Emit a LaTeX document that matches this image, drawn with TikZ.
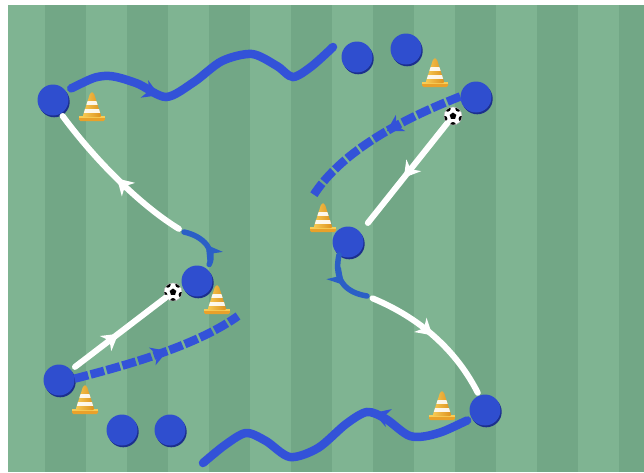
\documentclass[tikz,border=0pt]{standalone}
\usetikzlibrary{arrows.meta, decorations.markings, shapes.geometric, shadows, calc}
\definecolor{fieldlight}{HTML}{7FB492}
\definecolor{fielddark}{HTML}{72A786}
\definecolor{playerfill}{HTML}{2F4ECF}
\definecolor{playeredge}{HTML}{1C2F8C}
\definecolor{runblue}{HTML}{3352D8}
\definecolor{curlblue}{HTML}{2B5FC6}
\definecolor{conelight}{HTML}{F8CC55}
\definecolor{conedark}{HTML}{DC8E1C}
\definecolor{conebase}{HTML}{E9A12A}
\tikzset{
    player/.style={circle, minimum size=31pt, inner sep=0pt, fill=playerfill,
        general shadow={fill=playeredge, shadow xshift=1.2pt, shadow yshift=-1.8pt}},
    ball/.style={circle, minimum size=18pt, inner sep=0pt, fill=white, draw=gray!60, line width=0.4pt,
        path picture={
            \node[regular polygon, regular polygon sides=5, fill=black, inner sep=0pt, minimum size=7pt]
                at (path picture bounding box.center) {};
            \foreach \a in {54,126,198,270,342}
                \fill[black] ($(path picture bounding box.center)+(\a:9pt)$) circle (3pt);
        }},
    midarrow/.style={postaction={decorate, decoration={markings,
        mark=at position #1 with {\arrow{Stealth[length=16pt, width=19pt, inset=5pt, line width=0pt]}}}}},
    passline/.style={white, line width=6pt, line cap=round},
    dribbleline/.style={runblue, line width=8.5pt, line cap=round},
    runline/.style={runblue, line width=8.5pt, dash pattern=on 14pt off 2.5pt},
    curlline/.style={curlblue, line width=5.5pt, line cap=round},
    trafficcone/.pic={
        \fill[conebase, rounded corners=1.5pt] (-13,9) rectangle (13,14);
        \fill[conelight] (-13,9) rectangle (13,10.5);
        \begin{scope}
            \clip[rounded corners=2pt] (-9.5,10) -- (-1.5,-15) -- (1.5,-15) -- (9.5,10) -- cycle;
            \shade[left color=conelight, right color=conedark] (-10,-16) rectangle (10,11);
            \fill[white, opacity=0.9] (-10,-6) rectangle (10,-2);
            \fill[white, opacity=0.9] (-10,2) rectangle (10,6);
        \end{scope}
    },
}
\begin{document}
\begin{tikzpicture}[x=1pt, y=-1pt]
\useasboundingbox (0,0) rectangle (644,472);
\fill[white] (0,0) rectangle (644,472);
% pitch with mown stripes
\fill[fieldlight] (8,5) rectangle (644,472);
\begin{scope}
    \clip (8,5) rectangle (644,472);
    \foreach \i in {0,...,7}
        \fill[fielddark] ({45+82*\i},5) rectangle ({86+82*\i},472);
\end{scope}

% players
\node[player] (p1) at (53,100) {};
\node[player] (p2) at (357,57) {};
\node[player] (p3) at (406,49) {};
\node[player] (p4) at (476,97) {};
\node[player] (p5) at (348,242) {};
\node[player] (p6) at (197,281) {};
\node[player] (p7) at (59,380) {};
\node[player] (p8) at (122,430) {};
\node[player] (p9) at (170,430) {};
\node[player] (p10) at (485,410) {};

% cones
\pic at (92,107) {trafficcone};
\pic at (435,73) {trafficcone};
\pic at (323,218) {trafficcone};
\pic at (217,300) {trafficcone};
\pic at (85,400) {trafficcone};
\pic at (442,406) {trafficcone};

% free ends of the runs
\coordinate (topend) at (333,47);
\coordinate (botend) at (203,463);
\coordinate (run1) at (238,316);
\coordinate (run2) at (313,196);
\coordinate (turn1) at (184,232);
\coordinate (turn2) at (367,296);

% runs without the ball
\draw[runline, midarrow=0.55] (p7.5) .. controls (140,362) and (200,343) .. (run1);
\draw[runline, midarrow=0.45] (p4.178) .. controls (405,118) and (342,150) .. (run2);

% dribbles
\draw[dribbleline, midarrow=0.33, shorten <=6pt] plot[smooth] coordinates
    {(p1.35) (104,76) (136,83) (166,97) (194,82) (222,61) (252,54) (277,66) (293,77) (312,66) (topend)};
\draw[dribbleline, midarrow=0.35, shorten <=5pt] plot[smooth] coordinates
    {(p10.212) (435,434) (410,436) (386,419) (367,412) (346,424) (318,448) (290,457) (266,441) (246,433) (225,445) (botend)};

% turns before the pass
\draw[curlline, midarrow=0.5, shorten <=5pt] (p6.50) .. controls (216,250) and (203,236) .. (turn1);
\draw[curlline, midarrow=0.55] (p5.235) .. controls (333,282) and (348,293) .. (turn2);

% balls
\node[ball] (b1) at (453,116) {};
\node[ball] (b2) at (173,292) {};

% passes
\draw[passline, midarrow=0.5, shorten <=5pt] (p7.40) -- (b2);
\draw[passline, midarrow=0.5, shorten >=12pt] (b1) -- (p5.38);
\draw[passline, midarrow=0.5, shorten <=6pt, shorten >=3pt] (turn1) .. controls (140,205) and (95,160) .. (p1.-60);
\draw[passline, midarrow=0.5, shorten <=6pt, shorten >=3pt] (turn2) .. controls (420,318) and (456,350) .. (p10.112);
\end{tikzpicture}
\end{document}
